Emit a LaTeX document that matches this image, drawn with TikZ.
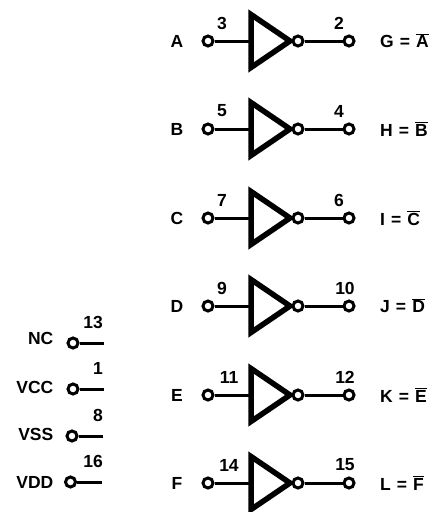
\documentclass[tikz,border=0pt]{standalone}
\usepackage{fontspec}
\setmainfont{Liberation Sans}
\begin{document}
\begin{tikzpicture}[x = 1pt, y = -1pt,
  pin/.style = {circle, draw, line width = 3pt, fill = white, inner sep = 0pt, minimum size = 10pt},
  wire/.style = {line width = 3pt},
  lbl/.style = {font = \fontsize{17.5}{17.5}\selectfont\bfseries, inner sep = 0pt}]
\useasboundingbox (0,0) rectangle (433,512);

\foreach \name/\y/\pinin/\xin/\pinout/\xout/\res in {
  A/41/3/222/2/339/G, B/129/5/222/4/339/H, C/218/7/222/6/339/I,
  D/306/9/222/10/345/J, E/395/11/229/12/345/K, F/483/14/229/15/345/L}
{
  \draw[line width = 5.5pt, fill = white, miter limit = 10] (251,\y-26.5) -- (290,\y) -- (251,\y+26.5) -- cycle;
  \coordinate (tri\name) at (251,\y);
  \node[lbl] (sig\name) at (177,\y) {\name};
  \node[pin] (in\name) at (208,\y) {};
  \node[pin] (bub\name) at (298,\y) {};
  \node[pin] (out\name) at (349,\y) {};
  \draw[wire] (in\name) -- (tri\name);
  \draw[wire] (bub\name) -- (out\name);
  \node[lbl] (pinin\name) at (\xin,\y-18) {\pinin};
  \node[lbl] (pinout\name) at (\xout,\y-18) {\pinout};
  \node[lbl, anchor = west] (res\name) at (380,\y) {\res\ \kern1.2pt=\kern1.2pt\ $\overline{\mbox{\bfseries\name}}$};
}

\foreach \name/\y/\ylbl/\x/\xend/\pinnum in {NC/343/338/73/104/13, VCC/389/387/73/104/1, VSS/436/434/72/103/8, VDD/482/482/70.5/102/16}
{
  \node[lbl, anchor = east] (sup\name) at (53.5,\ylbl) {\name};
  \node[pin] (pin\name) at (\x,\y) {};
  \coordinate (end\name) at (\xend,\y);
  \draw[wire] (pin\name) -- (end\name);
  \node[lbl, anchor = east] (num\name) at (103,\y-21) {\pinnum};
}
\end{tikzpicture}
\end{document}
